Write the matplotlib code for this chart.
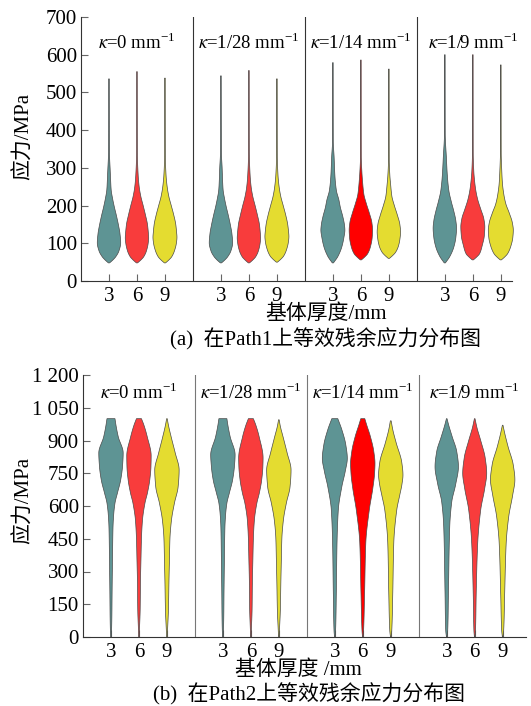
import numpy as np
import matplotlib
matplotlib.use("Agg")
import matplotlib.pyplot as plt

plt.rcParams['font.family'] = ['Liberation Serif', 'Noto Sans CJK SC']
plt.rcParams['mathtext.fontset'] = 'stix'

# ---------------- data ----------------
thickness = [3, 6, 9]
kappa_labels = ['0', '1/28', '1/14', '1/9']
colors = ['#5E9494', '#F83C3C', '#E4DC30']
colors_k14 = ['#5E9494', '#FF0000', '#E4DC30']

path1_yticks = [0, 100, 200, 300, 400, 500, 600, 700]
path1_yticklabels = ['0', '100', '200', '300', '400', '500', '600', '700']
path2_yticks = [0, 150, 300, 450, 600, 750, 900, 1050, 1200]
path2_yticklabels = ['0', '150', '300', '450', '600', '750', '900', '1 050', '1 200']

# Violin outlines: stress knots (MPa) and half widths (px)
# Path1, groups k=0, 1/28, 1/14, 1/9 ; each with thickness 3, 6, 9
path1_stress = [
    [[48, 56, 64, 80, 101, 125, 148, 175, 197, 220, 241, 270, 294, 340, 536],
     [48, 56, 64, 80, 100, 114, 130, 150, 175, 200, 225, 250, 280, 340, 555],
     [48, 56, 64, 80, 100, 116, 130, 150, 175, 200, 225, 250, 280, 330, 538]],
    [[48, 56, 64, 80, 101, 125, 148, 175, 197, 220, 241, 270, 300, 340, 544],
     [48, 56, 64, 80, 100, 114, 130, 150, 175, 200, 225, 250, 280, 340, 558],
     [50, 58, 66, 82, 102, 118, 132, 150, 175, 200, 225, 250, 280, 330, 536]],
    [[48, 65, 91, 115, 135, 150, 170, 195, 215, 240, 280, 330, 370, 579],
     [56, 64, 72, 90, 115, 135, 155, 180, 205, 230, 260, 290, 330, 586],
     [60, 68, 76, 92, 110, 130, 150, 175, 200, 225, 255, 280, 320, 562]],
    [[48, 65, 90, 115, 140, 160, 185, 210, 240, 280, 330, 390, 600],
     [56, 64, 72, 95, 120, 144, 165, 190, 215, 240, 270, 290, 340, 600],
     [56, 64, 72, 92, 115, 135, 155, 180, 205, 230, 260, 290, 340, 573]],
]
path1_width = [
    [[0.6, 4, 6.7, 10, 11.7, 11, 9.5, 7.3, 5.3, 3.5, 2.2, 1.6, 1.2, 0.5, 0.3],
     [0.6, 4, 6.7, 9.5, 11.2, 11.7, 11.3, 10.5, 8.5, 6.2, 3.8, 2.2, 1.2, 0.4, 0.3],
     [0.6, 4, 6.7, 9.5, 11.4, 12, 11.6, 10.8, 8.8, 6.3, 3.8, 2.2, 1.1, 0.4, 0.3]],
    [[0.6, 4, 6.7, 10, 11.7, 11, 9.5, 7.3, 5.3, 3.5, 2.2, 1.6, 1.2, 0.5, 0.3],
     [0.6, 4, 6.7, 9.5, 11.2, 11.7, 11.3, 10.5, 8.5, 6.2, 3.8, 2.2, 1.2, 0.4, 0.3],
     [0.6, 4, 6.7, 9.5, 11.4, 12, 11.6, 10.8, 8.8, 6.3, 3.8, 2.2, 1.1, 0.4, 0.3]],
    [[0.6, 5, 9, 11, 12, 11.5, 10, 7.5, 6, 3.5, 2, 1.2, 0.4, 0.3],
     [0.6, 4, 6.7, 9.5, 11.3, 11.7, 11, 8.5, 5.5, 3, 1.8, 1, 0.4, 0.3],
     [0.6, 4, 6.7, 9.5, 11, 11.7, 11, 8.5, 5.5, 3, 1.8, 1, 0.4, 0.3]],
    [[0.6, 5, 9, 11, 11.7, 11, 9, 6.5, 4, 2.5, 1.5, 0.4, 0.3],
     [0.6, 4, 6.7, 9.5, 11.5, 12, 11, 8, 5, 3, 1.6, 1, 0.4, 0.3],
     [0.6, 4, 6.7, 10, 12, 12.5, 11.5, 8.5, 5, 3, 1.6, 1, 0.4, 0.3]],
]

path2_stress = [
    [[0, 30, 100, 200, 350, 500, 560, 613, 660, 719, 780, 843, 917, 970, 1000],
     [0, 30, 125, 250, 354, 450, 534, 613, 660, 719, 780, 830, 917, 970, 1000],
     [0, 30, 125, 250, 354, 450, 534, 613, 688, 765, 843, 917, 970, 1000]],
    [[0, 30, 100, 200, 350, 500, 560, 613, 660, 719, 780, 835, 917, 970, 1000],
     [0, 30, 125, 250, 354, 450, 534, 613, 660, 719, 780, 820, 917, 970, 1000],
     [0, 30, 125, 250, 354, 450, 534, 613, 688, 765, 843, 917, 965, 995]],
    [[0, 30, 201, 430, 582, 688, 760, 818, 880, 950, 1000],
     [0, 30, 201, 430, 582, 680, 750, 795, 850, 920, 970, 1000],
     [0, 30, 201, 430, 582, 650, 700, 742, 800, 888, 950, 990]],
    [[0, 30, 201, 505, 618, 700, 780, 850, 917, 970, 1000],
     [0, 30, 201, 430, 582, 680, 750, 820, 900, 960, 1000],
     [0, 30, 201, 430, 550, 650, 720, 790, 870, 930, 970]],
]
path2_width = [
    [[0.3, 0.6, 0.9, 1.1, 1.5, 2, 2.7, 4, 6.5, 9.7, 11.5, 12.2, 7.3, 5, 4],
     [0.3, 0.5, 1.2, 1.5, 2, 2.5, 3.5, 6, 8.5, 10.8, 12, 12.2, 8.3, 5, 2.5],
     [0.3, 0.6, 1.5, 2, 2.5, 3, 4.5, 7.5, 11.2, 12.2, 8.3, 4.2, 1.5, 0.3]],
    [[0.3, 0.6, 0.9, 1.1, 1.5, 2, 2.7, 4, 6.5, 9.7, 11.5, 12.2, 7.3, 5, 4],
     [0.3, 0.5, 1.2, 1.5, 2, 2.5, 3.5, 6, 8.5, 10.8, 12, 12.2, 8.3, 5, 2.5],
     [0.3, 0.6, 1.5, 2, 2.5, 3, 4.5, 7.5, 11.2, 12.2, 8.3, 4.2, 1.5, 0.3]],
    [[0.3, 0.8, 1.5, 2.2, 3.5, 7, 10.5, 12.5, 11, 7, 3],
     [0.3, 0.8, 1.8, 3, 6.5, 10, 11.8, 12.2, 11, 7.5, 4, 2],
     [0.3, 1, 2, 3, 6, 9, 11.2, 12.2, 11, 5.5, 2, 0.4]],
    [[0.3, 1, 1.7, 3, 5, 9, 11.7, 10, 5.5, 2, 0.3],
     [0.3, 0.8, 1.5, 3, 6, 10, 12, 10.5, 6, 2.2, 0.3],
     [0.3, 1, 2, 3.5, 6, 10, 12.2, 10.5, 5.5, 2.2, 0.3]],
]

# ---------------- helpers ----------------
PX_PER_UNIT = 9.33
GROUP_W = 12


def pchip(xk, yk, xs):
    xk = np.asarray(xk, float)
    yk = np.asarray(yk, float)
    h = np.diff(xk)
    d = np.diff(yk) / h
    n = len(xk)
    m = np.zeros(n)
    m[0] = d[0]
    m[-1] = d[-1]
    for k in range(1, n - 1):
        if d[k - 1] * d[k] <= 0:
            m[k] = 0.0
        else:
            w1 = 2 * h[k] + h[k - 1]
            w2 = h[k] + 2 * h[k - 1]
            m[k] = (w1 + w2) / (w1 / d[k - 1] + w2 / d[k])
    idx = np.clip(np.searchsorted(xk, xs) - 1, 0, n - 2)
    t = (xs - xk[idx]) / h[idx]
    h00 = 2 * t**3 - 3 * t**2 + 1
    h10 = t**3 - 2 * t**2 + t
    h01 = -2 * t**3 + 3 * t**2
    h11 = t**3 - t**2
    return (h00 * yk[idx] + h10 * h[idx] * m[idx] + h01 * yk[idx + 1]
            + h11 * h[idx] * m[idx + 1])


def draw_violin(ax, center, stress, width, color):
    ys = np.linspace(stress[0], stress[-1], 400)
    ws = np.clip(pchip(stress, width, ys), 0.15, None) / PX_PER_UNIT
    x = np.concatenate([center - ws, (center + ws)[::-1]])
    y = np.concatenate([ys, ys[::-1]])
    ax.fill(x, y, facecolor=color, edgecolor='#4a4a4a', linewidth=0.5,
            zorder=3, clip_on=False)


def setup_axes(ax, ylim, yticks, yticklabels, xmax, title_y, sep_color):
    ax.set_xlim(0, xmax)
    ax.set_ylim(*ylim)
    for s in ['top', 'right']:
        ax.spines[s].set_visible(False)
    for s in ['left', 'bottom']:
        ax.spines[s].set_color('#333333')
        ax.spines[s].set_linewidth(0.8)
    xt = [g * GROUP_W + t for g in range(4) for t in thickness]
    ax.set_xticks(xt)
    ax.set_xticklabels([str(t) for g in range(4) for t in thickness])
    ax.set_yticks(yticks)
    ax.set_yticklabels(yticklabels)
    ax.tick_params(axis='both', direction='in', length=5, width=0.8,
                   color='#666666', labelsize=15, pad=3)
    ax.tick_params(axis='x', pad=4)
    for g in range(1, 4):
        ax.axvline(g * GROUP_W, color=sep_color, lw=0.8, zorder=2)
    for g in range(4):
        ax.text(g * GROUP_W + 6, title_y,
                r'$\kappa$=' + kappa_labels[g] + r' mm$^{\mathregular{-1}}$',
                ha='center', va='center', fontsize=13.5)


fig = plt.figure(figsize=(5.31, 7.06), dpi=100)
ax1 = fig.add_axes([81 / 531, 1 - 281 / 706, 431 / 531, 264 / 706])
ax2 = fig.add_axes([83 / 531, 1 - 637 / 706, 443 / 531, 262 / 706])

setup_axes(ax1, (0, 700), path1_yticks, path1_yticklabels, 46.2, 631,
           '#333333')
setup_axes(ax2, (0, 1200), path2_yticks, path2_yticklabels, 47.5, 1117,
           '#777777')

for g in range(4):
    cols = colors_k14 if g == 2 else colors
    for i, t in enumerate(thickness):
        c = g * GROUP_W + t
        draw_violin(ax1, c, path1_stress[g][i], path1_width[g][i], cols[i])
        draw_violin(ax2, c, path2_stress[g][i], path2_width[g][i], cols[i])

# labels
fig.text(24 / 531, 1 - 136 / 706, '应力/MPa', rotation=90, ha='center',
         va='center', fontsize=15)
fig.text(24 / 531, 1 - 500 / 706, '应力/MPa', rotation=90, ha='center',
         va='center', fontsize=15)
fig.text(326 / 531, 1 - 314 / 706, '基体厚度/mm', ha='center', va='center',
         fontsize=15)
fig.text(326 / 531, 1 - 339 / 706, '(a)  在Path1上等效残余应力分布图',
         ha='center', va='center', fontsize=15)
fig.text(298 / 531, 1 - 670 / 706, '基体厚度 /mm', ha='center', va='center',
         fontsize=15)
fig.text(309 / 531, 1 - 694 / 706, '(b)  在Path2上等效残余应力分布图',
         ha='center', va='center', fontsize=15)

fig.savefig('out.png', dpi=100)
